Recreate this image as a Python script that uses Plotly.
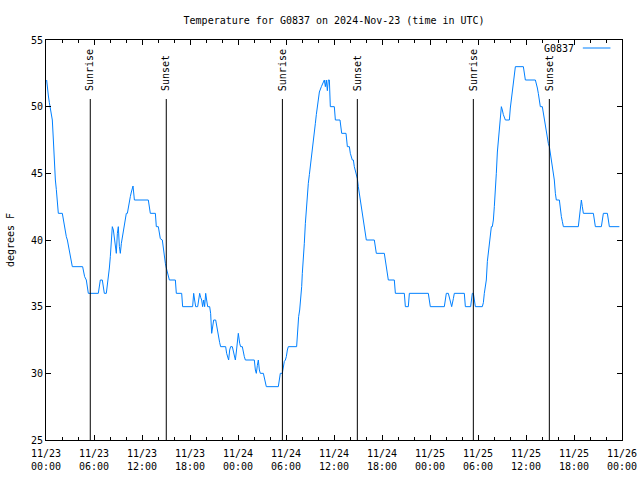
import pandas as pd
import plotly.graph_objects as go

# hours since 2024-11-23 00:00 UTC
hours = [0.08, 0.17, 0.3, 0.42, 0.55, 0.79, 0.92, 1.04, 1.17, 1.29, 1.42, 1.54, 2.04, 2.17, 2.29, 2.42,
         2.54, 2.67, 2.79, 2.92, 3.04, 3.17, 3.29, 4.58, 4.71, 4.83, 5.04, 5.17, 5.29, 6.54, 6.67, 6.79,
         7.04, 7.17, 7.29, 7.54, 7.67, 7.79, 7.92, 8.04, 8.17, 8.29, 8.42, 8.54, 8.67, 8.79, 8.92, 9.04,
         9.17, 9.29, 9.42, 9.54, 9.67, 9.79, 9.92, 10.04, 10.17, 10.29, 10.42, 10.54, 10.67, 10.79, 10.875,
         11.0, 11.05, 12.79, 12.9, 13.04, 13.67, 13.79, 14.04, 14.17, 14.29, 14.54, 14.67, 14.79, 14.92,
         15.04, 15.17, 15.29, 15.42, 16.17, 16.29, 16.96, 17.08, 18.33, 18.46, 18.58, 18.71, 18.96, 19.08,
         19.21, 19.33, 19.46, 19.58, 19.71, 19.83, 19.96, 20.08, 20.21, 20.46, 20.58, 20.71, 20.83, 20.96,
         21.21, 21.33, 21.46, 21.58, 21.71, 21.83, 22.46, 22.58, 22.71, 22.83, 22.96, 23.08, 23.29, 23.42,
         23.54, 23.67, 23.79, 23.92, 24.04, 24.21, 24.33, 24.54, 24.67, 24.79, 24.92, 26.04, 26.17, 26.29,
         26.42, 26.54, 26.67, 26.79, 27.17, 27.29, 27.42, 27.54, 29.04, 29.17, 29.29, 29.54, 29.67, 29.79,
         29.92, 30.04, 30.17, 30.29, 31.33, 31.46, 31.58, 31.71, 31.83, 31.96, 32.04, 32.17, 32.29, 32.42,
         32.54, 32.67, 32.79, 32.92, 33.04, 33.17, 33.29, 33.42, 33.54, 33.67, 33.79, 33.92, 34.04, 34.17,
         34.42, 34.67, 34.79, 34.92, 35.04, 35.17, 35.29, 35.42, 35.54, 36.04, 36.17, 36.75, 36.96, 37.5,
         37.67, 37.92, 38.04, 38.29, 38.42, 38.54, 38.79, 38.92, 39.04, 39.17, 39.29, 39.42, 39.54, 39.67,
         39.79, 39.92, 40.04, 41.04, 41.17, 41.29, 42.29, 42.42, 42.54, 42.67, 42.79, 43.54, 43.67, 44.79,
         44.92, 45.29, 45.42, 47.79, 47.92, 48.04, 49.79, 49.92, 50.04, 50.29, 50.42, 50.54, 50.71, 50.92,
         51.04, 52.29, 52.42, 53.08, 53.21, 53.29, 53.42, 53.54, 53.67, 54.54, 54.67, 54.79, 54.92, 55.04,
         55.17, 55.29, 55.42, 55.54, 55.67, 55.79, 55.92, 56.04, 56.17, 56.29, 56.42, 56.54, 56.67, 56.79,
         56.92, 57.04, 57.17, 57.42, 57.92, 58.04, 58.17, 58.29, 58.42, 58.54, 58.67, 59.67, 59.79, 59.92,
         61.17, 61.29, 61.42, 61.54, 61.67, 61.79, 62.04, 62.17, 62.29, 62.42, 62.54, 62.67, 62.79, 62.92,
         63.04, 63.17, 63.29, 63.42, 63.54, 63.67, 63.79, 64.17, 64.29, 64.42, 64.54, 64.67, 66.54, 66.67,
         66.79, 66.92, 67.04, 67.17, 68.42, 68.54, 68.67, 69.42, 69.54, 69.67, 70.17, 70.29, 70.42, 71.67]

temps_f = [52, 51.3, 50.8, 50.3, 49.8, 49, 47.5, 45.5, 44.5, 43.8, 43, 42, 42, 41.5, 41.1, 40.75,
           40.25, 40, 39.6, 39.25, 38.75, 38.4, 38, 38, 37.6, 37.25, 37, 36.6, 36, 36, 36.6, 37,
           37, 36.6, 36, 36, 36.6, 37.25, 37.9, 38.75, 40.25, 41, 40.75, 40, 39.5, 39, 40.5, 41,
           39.5, 39, 39.75, 40.25, 40.75, 41.25, 41.75, 42, 42, 42.5, 42.75, 43.25, 43.6, 43.8, 44.05,
           43.3, 43, 43, 42.5, 42, 42, 41, 41, 40.25, 40.1, 40, 39.25, 38.75, 38.25,
           37.9, 37.5, 37.25, 37, 37, 36, 36, 35, 35, 36, 35.5, 35, 35, 35.5,
           36, 35.7, 35.5, 35, 35.5, 35, 36, 35.5, 35, 35, 34.5, 33, 33.5, 34,
           34, 33.5, 33, 32.6, 32.3, 32, 32, 31.5, 31.25, 31, 31.75, 32, 32, 31.6,
           31.25, 31, 31.6, 32.25, 33, 32.25, 32, 32, 31.5, 31.25, 31, 31, 30.25, 30,
           30.6, 31, 30.25, 30, 30, 29.6, 29.4, 29, 29, 29.6, 30, 30, 30.6, 30.9,
           31, 31.25, 31.75, 32, 32, 33.5, 34.25, 34.75, 35.5, 36.5, 37.5, 38.5, 39.75, 41.25,
           42.5, 43.5, 44.25, 44.9, 45.6, 46.2, 46.8, 47.5, 48.1, 48.75, 49.4, 49.9, 50.5, 51.1,
           51.5, 51.85, 52, 51.5, 52, 51.2, 52, 52, 50, 50, 49, 49, 48, 48,
           47, 47, 46.5, 46, 46, 45.5, 44.9, 44.6, 44, 43.5, 43, 42.25, 41.9, 41.5,
           41, 40.4, 40, 40, 39.4, 39, 39, 38.5, 38, 37.4, 37, 37, 36, 36,
           35, 35, 36, 36, 35.4, 35, 35, 35.5, 36, 36, 35.6, 35.3, 35, 35.6,
           36, 36, 35, 35, 35.5, 36, 36, 35.5, 35, 35, 35.3, 36, 36.5, 37,
           38.4, 39, 39.75, 40.5, 41, 41, 41.5, 42.5, 43.5, 45, 46.6, 47.5, 48.5, 49.5,
           50, 49.75, 49.4, 49, 49, 49.9, 50.5, 51, 51.5, 52.3, 53, 53, 52.5, 52,
           52, 51.75, 51.4, 51, 50.5, 50, 50, 49.5, 49, 48.5, 48, 47.6, 47.25, 47,
           46.5, 46.1, 45.75, 45.25, 44.5, 43.5, 43, 43, 42.2, 41.75, 41.4, 41, 41, 41.75,
           42.5, 43, 42.5, 42, 42, 41.5, 41, 41, 41.5, 42, 42, 41.5, 41, 41]

sun_event_times = ["2024-11-23 05:32", "2024-11-23 15:02", "2024-11-24 05:33",
                   "2024-11-24 14:55", "2024-11-25 05:25", "2024-11-25 14:55"]
sun_event_labels = ["Sunrise", "Sunset", "Sunrise", "Sunset", "Sunrise", "Sunset"]

station = "G0837"
start = pd.Timestamp("2024-11-23 00:00")
end = pd.Timestamp("2024-11-26 00:00")
times = start + pd.to_timedelta(hours, unit="h")

FONT = "DejaVu Sans Mono"
fig = go.Figure()
fig.add_trace(go.Scatter(x=times, y=temps_f, mode="lines",
                         line=dict(color="#0080ff", width=1), showlegend=False,
                         name=station))

for t, lab in zip(sun_event_times, sun_event_labels):
    fig.add_shape(type="line", xref="x", yref="paper", x0=t, x1=t, y0=0, y1=0.8525,
                  line=dict(color="black", width=1))
    fig.add_annotation(x=t, xref="x", y=0.868, yref="paper", text=lab, textangle=-90,
                       showarrow=False, xanchor="center", yanchor="bottom",
                       font=dict(family=FONT, size=10, color="black"))

# legend (gnuplot style: label then sample line)
fig.add_annotation(x=0.921, xref="paper", y=0.98, yref="paper", text=station,
                   showarrow=False, xanchor="right", yanchor="middle",
                   font=dict(family=FONT, size=10, color="black"))
fig.add_shape(type="line", xref="paper", yref="paper", x0=0.932, x1=0.98, y0=0.98, y1=0.98,
              line=dict(color="#0080ff", width=1))

fig.update_layout(
    width=640, height=480,
    margin=dict(l=46, r=18, t=40, b=40, autoexpand=False),
    paper_bgcolor="white", plot_bgcolor="white",
    font=dict(family=FONT, size=10, color="black"),
    title=dict(text="Temperature for G0837 on 2024-Nov-23 (time in UTC)",
               x=0.522, xanchor="center", y=0.957, yanchor="middle",
               font=dict(family=FONT, size=10, color="black")),
)
fig.update_xaxes(
    type="date", range=[start, end], automargin=False,
    showline=True, linecolor="black", linewidth=1, mirror="allticks",
    ticks="inside", ticklen=5, tickcolor="black", tickwidth=1,
    dtick=6 * 3600 * 1000, tick0=start, tickformat="%m/%d<br>%H:%M",
    minor=dict(ticks="inside", ticklen=3, dtick=2 * 3600 * 1000, tickcolor="black", showgrid=False),
    showgrid=False, zeroline=False, ticklabelstandoff=4,
    tickfont=dict(family=FONT, size=10, color="black"),
)
fig.update_yaxes(
    range=[25, 55], dtick=5, tick0=25, automargin=False,
    showline=True, linecolor="black", linewidth=1, mirror="allticks",
    ticks="inside", ticklen=5, tickcolor="black", tickwidth=1,
    showgrid=False, zeroline=False,
    title=dict(text="degrees F", standoff=14, font=dict(family=FONT, size=10, color="black")),
    tickfont=dict(family=FONT, size=10, color="black"),
)

fig.write_html("out.html", config={"displayModeBar": False},
               post_script="document.body.style.margin='0';document.body.style.overflow='hidden';")
